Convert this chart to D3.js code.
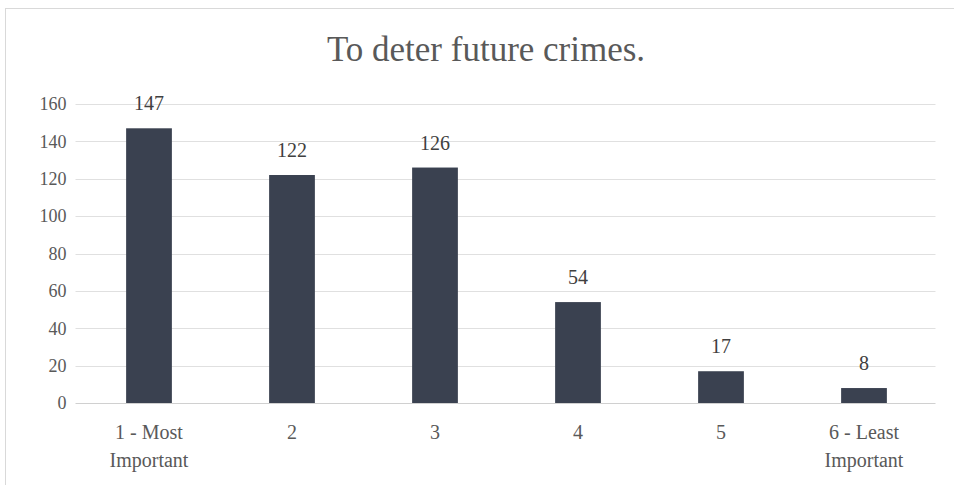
<!DOCTYPE html>
<html><head><meta charset="utf-8">
<script src="https://cdn.jsdelivr.net/npm/d3@7"></script>
<style>body{margin:0;background:#fff}svg{display:block}</style>
</head><body>
<script>
const categories = [["1 - Most","Important"],["2"],["3"],["4"],["5"],["6 - Least","Important"]];
const values = [147,122,126,54,17,8];
const yTicks = [0,20,40,60,80,100,120,140,160];
const title = "To deter future crimes.";

const W=954,H=485;
const font = "'Liberation Serif', 'DejaVu Serif', serif";
const svg = d3.select("body").append("svg").attr("width",W).attr("height",H);
svg.append("rect").attr("x",5.5).attr("y",8.5).attr("width",W).attr("height",H).attr("fill","#fff").attr("stroke","#d9d9d9");

const m={l:77.5,r:935.5,t:104,b:403};
const x=d3.scaleBand().domain(d3.range(categories.length)).range([m.l,m.r]).paddingInner(0.68).paddingOuter(0.34);
const y=d3.scaleLinear().domain([0,160]).range([m.b,m.t]);

svg.append("text").attr("x",486).attr("y",61).attr("text-anchor","middle")
  .attr("font-family",font).attr("font-size",35).attr("fill","#595959").text(title);

const grid=svg.append("g");
grid.selectAll("line").data(yTicks).join("line")
  .attr("x1",m.l-2).attr("x2",m.r).attr("y1",d=>Math.round(y(d))+0.5).attr("y2",d=>Math.round(y(d))+0.5)
  .attr("stroke",d=>d===0?"#d0d0d0":"#e0e0e0").attr("stroke-width",1);

const yAxis=d3.axisLeft(y).tickValues(yTicks).tickSize(0).tickPadding(9);
const ga=svg.append("g").attr("transform",`translate(${m.l-2},0)`).call(yAxis);
ga.select(".domain").remove();
ga.selectAll("text").attr("font-family",font).attr("font-size",18).attr("fill","#595959");

svg.append("g").selectAll("rect").data(values).join("rect")
  .attr("x",(d,i)=>x(i)).attr("width",x.bandwidth())
  .attr("y",d=>y(d)).attr("height",d=>y(0)-y(d)).attr("fill","#3a4150");

svg.append("g").selectAll("text").data(values).join("text")
  .attr("x",(d,i)=>x(i)+x.bandwidth()/2).attr("y",d=>y(d)-18)
  .attr("text-anchor","middle").attr("font-family",font).attr("font-size",20).attr("fill","#404040")
  .text(d=>d);

const cl=svg.append("g").selectAll("text").data(categories).join("text")
  .attr("x",(d,i)=>x(i)+x.bandwidth()/2).attr("y",439)
  .attr("text-anchor","middle").attr("font-family",font).attr("font-size",20).attr("fill","#595959");
cl.each(function(d,i){
  const t=d3.select(this);
  d.forEach((s,j)=>t.append("tspan").attr("x",x(i)+x.bandwidth()/2).attr("dy",j===0?0:28).text(s));
});
</script>
</body></html>
